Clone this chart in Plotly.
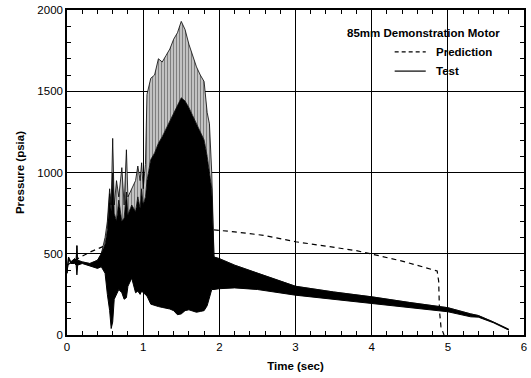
import plotly.graph_objects as go

# ---- data ----
pred_t = [0.0, 0.1, 0.3, 0.5, 0.9, 1.3, 1.9, 2.2, 2.6, 3.0, 3.4, 3.8, 4.0, 4.4, 4.86, 4.88, 4.89, 4.91, 4.95]
pred_p = [430, 460, 510, 550, 590, 620, 648, 635, 612, 574, 547, 519, 498, 455, 394, 330, 150, 50, 0]

test_t = [0.0, 0.02, 0.05, 0.1, 0.12, 0.13, 0.14, 0.2, 0.3, 0.4, 0.45, 0.5, 0.53, 0.56, 0.58,
          0.6, 0.62, 0.65, 0.68, 0.72, 0.75, 0.78, 0.8, 0.85, 0.9, 0.93, 0.96, 0.98, 1.0,
          1.03, 1.05, 1.1, 1.15, 1.2, 1.25, 1.3, 1.35, 1.4, 1.45, 1.5, 1.55, 1.6, 1.65,
          1.7, 1.75, 1.8, 1.84, 1.87, 1.9, 1.93, 2.0, 2.2, 2.5, 3.0, 3.5, 4.0, 4.5, 5.0,
          5.3, 5.4, 5.6, 5.8]
test_upper = [380, 480, 450, 470, 460, 550, 460, 450, 440, 460, 500, 600, 700, 900, 800,
              1210, 800, 950, 850, 1030, 800, 1140, 850, 900, 950, 1040, 950, 1060, 900,
              1050, 1480, 1580, 1600, 1700, 1680, 1720, 1760, 1820, 1860, 1930, 1880, 1790, 1720,
              1650, 1600, 1560, 1370, 1300, 1000, 480, 470, 430, 380, 300, 265, 235, 200, 168,
              130, 120, 80, 35]
test_core = [380, 480, 450, 470, 460, 550, 460, 450, 440, 460, 500, 560, 650, 870, 760,
             1000, 750, 700, 830, 700, 720, 880, 740, 800, 760, 850, 780, 900, 800,
             850, 950, 1080, 1120, 1180, 1220, 1270, 1320, 1370, 1420, 1460, 1440, 1400, 1350,
             1300, 1250, 1200, 1100, 1000, 900, 480, 470, 430, 380, 300, 265, 235, 200, 168,
             130, 120, 80, 35]
test_lower = [380, 470, 440, 440, 430, 370, 430, 440, 425, 410, 420, 380, 250, 150, 40,
              80, 220, 250, 280, 260, 220, 230, 300, 350, 260, 270, 250, 270, 260,
              250, 240, 190, 180, 175, 170, 165, 160, 150, 125, 130, 150, 155, 145,
              140, 145, 150, 180, 240, 280, 280, 285, 290, 280, 245, 220, 197, 170, 143,
              112, 110, 75, 30]

x_ticks = [0, 1, 2, 3, 4, 5, 6]
y_ticks = [0, 500, 1000, 1500, 2000]

FONT = "Liberation Sans, Arial, sans-serif"

fig = go.Figure()

fig.add_trace(go.Scatter(x=pred_t, y=pred_p, mode="lines",
                         line=dict(color="black", width=1.2, dash="5px,4px"),
                         showlegend=False, hoverinfo="skip"))
fig.add_trace(go.Scatter(x=test_t, y=test_lower, mode="lines",
                         line=dict(color="black", width=1),
                         showlegend=False, hoverinfo="skip"))
fig.add_trace(go.Scatter(x=test_t, y=test_core, mode="lines", fill="tonexty",
                         fillcolor="black", line=dict(color="black", width=0.8),
                         showlegend=False, hoverinfo="skip"))
fig.add_trace(go.Scatter(x=test_t, y=test_upper, mode="lines", fill="tonexty",
                         fillpattern=dict(shape="|", size=3, solidity=0.65,
                                          fgcolor="black", bgcolor="white"),
                         line=dict(color="black", width=0.8),
                         showlegend=False, hoverinfo="skip"))

# legend drawn manually
fig.add_annotation(x=0.781, y=0.929, xref="paper", yref="paper", text="<b>85mm Demonstration Motor</b>",
                   showarrow=False, font=dict(family=FONT, size=11.5, color="black"),
                   xanchor="center", yanchor="middle")
fig.add_shape(type="line", xref="paper", yref="paper", x0=0.717, x1=0.785, y0=0.871, y1=0.871,
              line=dict(color="black", width=1.2, dash="4px,3px"))
fig.add_shape(type="line", xref="paper", yref="paper", x0=0.717, x1=0.785, y0=0.812, y1=0.812,
              line=dict(color="black", width=1.2))
fig.add_annotation(x=0.804, y=0.871, xref="paper", yref="paper", text="<b>Prediction</b>",
                   showarrow=False, font=dict(family=FONT, size=11.5, color="black"),
                   xanchor="left", yanchor="middle")
fig.add_annotation(x=0.804, y=0.812, xref="paper", yref="paper", text="<b>Test</b>",
                   showarrow=False, font=dict(family=FONT, size=11.5, color="black"),
                   xanchor="left", yanchor="middle")

axis_common = dict(showline=True, linecolor="black", linewidth=1.5, mirror="allticks",
                   showgrid=True, gridcolor="black", gridwidth=1, zeroline=False,
                   ticks="inside", ticklen=5, tickcolor="black", tickwidth=1,
                   tickfont=dict(family=FONT, size=11.5, color="black"))

fig.update_xaxes(range=[0, 6], tickvals=x_ticks, ticktext=[str(v) for v in x_ticks],
                 minor=dict(dtick=0.2, ticks="inside", ticklen=4, tickcolor="black", showgrid=False),
                 title=dict(text="<b>Time (sec)</b>", font=dict(family=FONT, size=11.5, color="black"),
                            standoff=10),
                 **axis_common)
fig.update_yaxes(range=[0, 2000], tickvals=y_ticks, ticktext=[str(v) for v in y_ticks],
                 minor=dict(dtick=100, ticks="inside", ticklen=4, tickcolor="black", showgrid=False),
                 title=dict(text="<b>Pressure (psia)</b>", font=dict(family=FONT, size=11.5, color="black"),
                            standoff=10),
                 **axis_common)

fig.update_layout(width=531, height=378, margin=dict(l=67, r=4, t=10, b=43),
                  paper_bgcolor="white", plot_bgcolor="white",
                  font=dict(family=FONT, color="black"))

fig.write_html("out.html")
